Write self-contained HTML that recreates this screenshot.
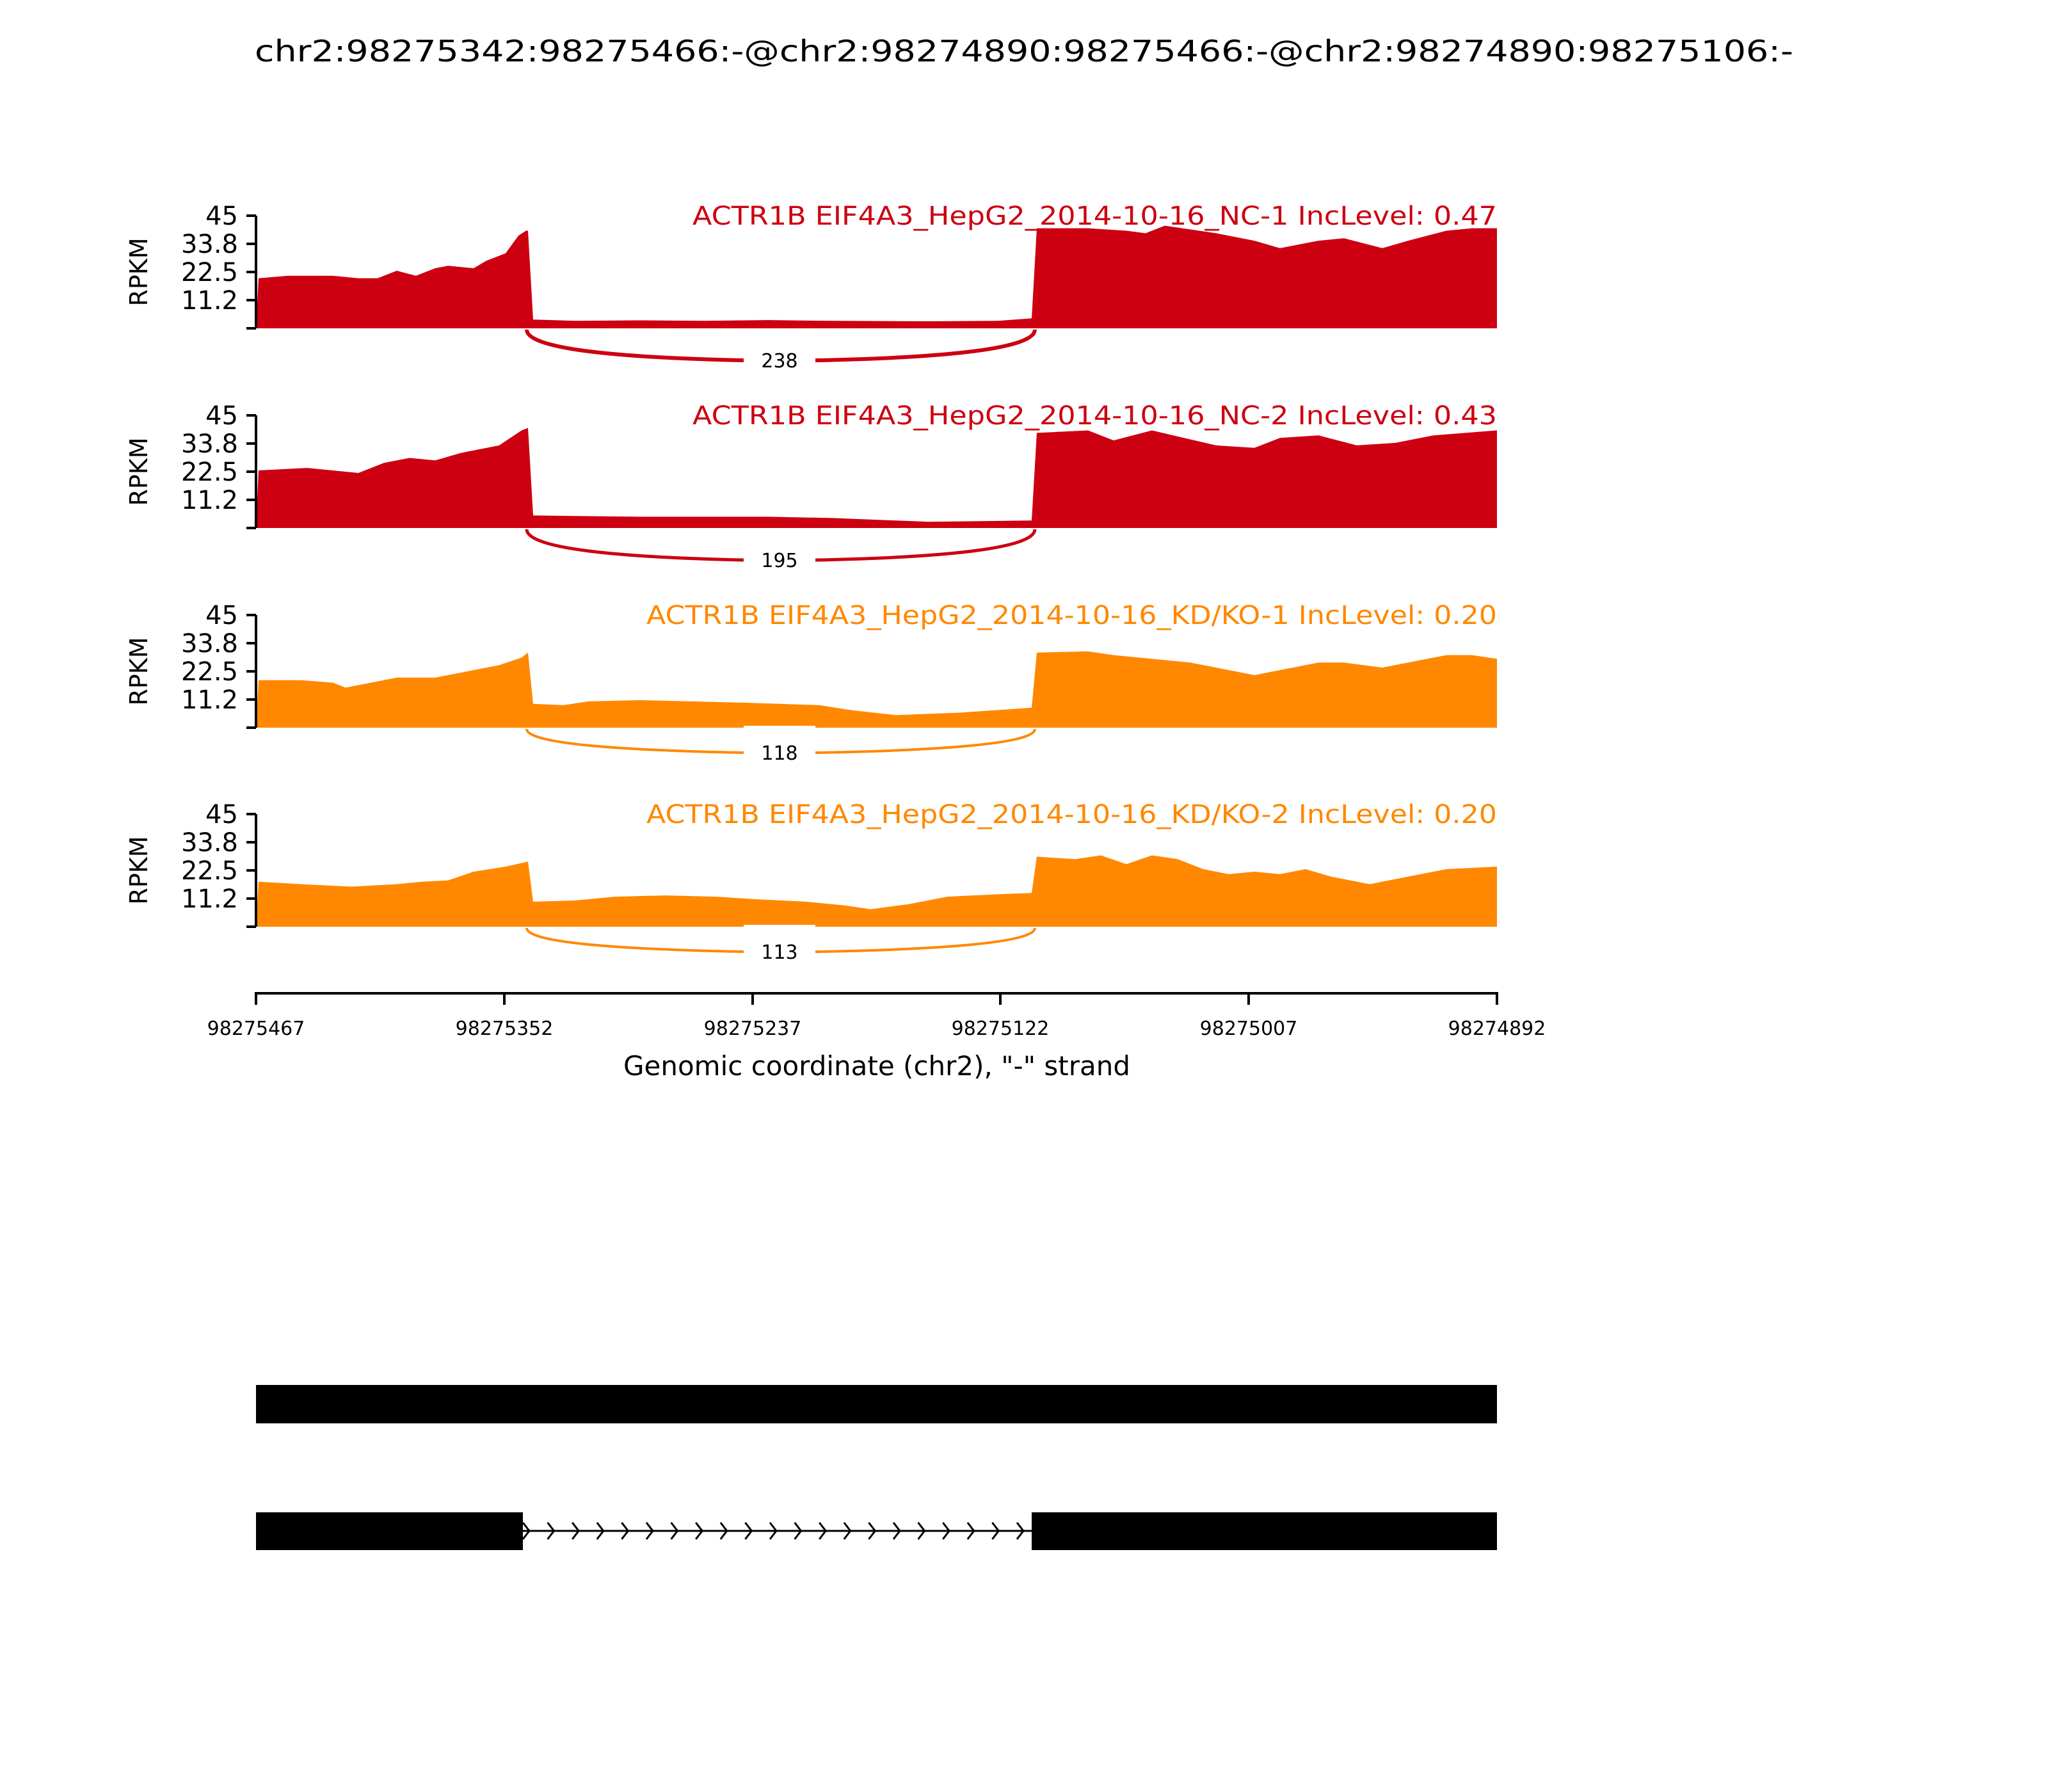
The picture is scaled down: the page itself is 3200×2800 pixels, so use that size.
<!DOCTYPE html>
<html><head><meta charset="utf-8"><style>
body{margin:0;background:#fff;}
svg{display:block;font-family:"DejaVu Sans","Liberation Sans",sans-serif;}
</style></head><body>
<svg width="3200" height="2800" viewBox="0 0 3200 2800" xmlns="http://www.w3.org/2000/svg">
<rect width="3200" height="2800" fill="#fff"/>
<text x="398" y="96" font-size="46" textLength="2404" lengthAdjust="spacingAndGlyphs">chr2:98275342:98275466:-@chr2:98274890:98275466:-@chr2:98274890:98275106:-</text>

<!-- Panel 1 -->
<polygon fill="#cc0011" points="400,513 404,434.8 450,430.9 520,430.9 560,434.8 590,434.8 620,423 650,430.9 680,419.1 700,415.2 740,419.1 760,407.4 790,395.7 810,368.3 822,360.5 825,360.5 833,499.3 900,501.3 1000,500.5 1100,501.3 1200,500.1 1300,501.3 1450,502 1560,501.3 1612,497.4 1620,356.6 1700,356.6 1760,360.5 1790,364.4 1820,352.6 1900,364.4 1960,376.1 2000,387.8 2060,376.1 2100,372.2 2160,387.8 2200,376.1 2260,360.5 2300,356.6 2339,356.6 2339,513"/>
<path d="M823 515 Q823 559 1220 564 Q1617 559 1617 515" stroke="#cc0011" stroke-width="6" fill="none"/>
<rect x="1162" y="545" width="112" height="38" fill="#fff"/>
<text x="1218" y="574" font-size="30" text-anchor="middle">238</text>
<g stroke="#000" stroke-width="4"><line x1="400" y1="337" x2="400" y2="513"/><line x1="385" y1="337" x2="400" y2="337"/><line x1="385" y1="381" x2="400" y2="381"/><line x1="385" y1="425" x2="400" y2="425"/><line x1="385" y1="469" x2="400" y2="469"/><line x1="385" y1="513" x2="400" y2="513"/></g>
<g font-size="40" text-anchor="end"><text x="372" y="351">45</text><text x="372" y="395">33.8</text><text x="372" y="439">22.5</text><text x="372" y="483">11.2</text></g>
<text transform="translate(230,425) rotate(-90)" font-size="38" text-anchor="middle">RPKM</text>
<text x="1082" y="351" font-size="40" fill="#cc0011" textLength="1257" lengthAdjust="spacingAndGlyphs">ACTR1B EIF4A3_HepG2_2014-10-16_NC-1 IncLevel: 0.47</text>

<!-- Panel 2 -->
<polygon fill="#cc0011" points="400,825 404,735 480,731.1 560,739 600,723.3 640,715.5 680,719.4 720,707.7 780,695.9 815,672.5 825,668.6 833,805.4 1000,807.4 1200,807.4 1300,809.4 1450,815.2 1612,813.3 1620,676.4 1700,672.5 1740,688.1 1800,672.5 1850,684.2 1900,695.9 1960,699.8 2000,684.2 2060,680.3 2120,695.9 2180,692 2240,680.3 2339,672.5 2339,825"/>
<path d="M823 827 Q823 871 1220 876 Q1617 871 1617 827" stroke="#cc0011" stroke-width="5" fill="none"/>
<rect x="1162" y="857" width="112" height="38" fill="#fff"/>
<text x="1218" y="886" font-size="30" text-anchor="middle">195</text>
<g stroke="#000" stroke-width="4"><line x1="400" y1="649" x2="400" y2="825"/><line x1="385" y1="649" x2="400" y2="649"/><line x1="385" y1="693" x2="400" y2="693"/><line x1="385" y1="737" x2="400" y2="737"/><line x1="385" y1="781" x2="400" y2="781"/><line x1="385" y1="825" x2="400" y2="825"/></g>
<g font-size="40" text-anchor="end"><text x="372" y="663">45</text><text x="372" y="707">33.8</text><text x="372" y="751">22.5</text><text x="372" y="795">11.2</text></g>
<text transform="translate(230,737) rotate(-90)" font-size="38" text-anchor="middle">RPKM</text>
<text x="1082" y="663" font-size="40" fill="#cc0011" textLength="1257" lengthAdjust="spacingAndGlyphs">ACTR1B EIF4A3_HepG2_2014-10-16_NC-2 IncLevel: 0.43</text>

<!-- Panel 3 -->
<polygon fill="#ff8800" points="400,1137 404,1062.7 470,1062.7 520,1066.6 540,1074.4 580,1066.6 620,1058.8 680,1058.8 720,1051 780,1039.2 815,1027.5 825,1019.7 833,1099.8 880,1101.8 920,1095.9 1000,1094 1080,1095.9 1160,1097.9 1280,1101.8 1330,1109.6 1400,1117.4 1500,1113.5 1612,1105.7 1620,1019.7 1700,1017.7 1740,1023.6 1800,1029.4 1860,1035.3 1920,1047 1960,1054.9 2000,1047 2060,1035.3 2100,1035.3 2160,1043.1 2200,1035.3 2260,1023.6 2300,1023.6 2339,1029.4 2339,1137"/>
<path d="M823 1139 Q823 1172 1220 1177 Q1617 1172 1617 1139" stroke="#ff8800" stroke-width="4" fill="none"/>
<rect x="1162" y="1134" width="112" height="58" fill="#fff"/>
<text x="1218" y="1187" font-size="30" text-anchor="middle">118</text>
<g stroke="#000" stroke-width="4"><line x1="400" y1="961" x2="400" y2="1137"/><line x1="385" y1="961" x2="400" y2="961"/><line x1="385" y1="1005" x2="400" y2="1005"/><line x1="385" y1="1049" x2="400" y2="1049"/><line x1="385" y1="1093" x2="400" y2="1093"/><line x1="385" y1="1137" x2="400" y2="1137"/></g>
<g font-size="40" text-anchor="end"><text x="372" y="975">45</text><text x="372" y="1019">33.8</text><text x="372" y="1063">22.5</text><text x="372" y="1107">11.2</text></g>
<text transform="translate(230,1049) rotate(-90)" font-size="38" text-anchor="middle">RPKM</text>
<text x="1010" y="975" font-size="40" fill="#ff8800" textLength="1329" lengthAdjust="spacingAndGlyphs">ACTR1B EIF4A3_HepG2_2014-10-16_KD/KO-1 IncLevel: 0.20</text>

<!-- Panel 4 -->
<polygon fill="#ff8800" points="400,1448 404,1377.6 470,1381.5 550,1385.4 620,1381.5 660,1377.6 700,1375.6 740,1362 790,1354.1 825,1346.3 833,1408.9 900,1406.9 960,1401.1 1040,1399.1 1120,1401.1 1180,1405 1260,1408.9 1320,1414.8 1360,1420.6 1420,1412.8 1480,1401.1 1560,1397.2 1612,1395.2 1620,1338.5 1680,1342.4 1720,1336.5 1760,1350.2 1800,1336.5 1840,1342.4 1880,1358 1920,1365.9 1960,1362 2000,1365.9 2040,1358 2080,1369.8 2140,1381.5 2200,1369.8 2260,1358 2339,1354.1 2339,1448"/>
<path d="M823 1450 Q823 1483 1220 1488 Q1617 1483 1617 1450" stroke="#ff8800" stroke-width="4" fill="none"/>
<rect x="1162" y="1445" width="112" height="58" fill="#fff"/>
<text x="1218" y="1498" font-size="30" text-anchor="middle">113</text>
<g stroke="#000" stroke-width="4"><line x1="400" y1="1272" x2="400" y2="1448"/><line x1="385" y1="1272" x2="400" y2="1272"/><line x1="385" y1="1316" x2="400" y2="1316"/><line x1="385" y1="1360" x2="400" y2="1360"/><line x1="385" y1="1404" x2="400" y2="1404"/><line x1="385" y1="1448" x2="400" y2="1448"/></g>
<g font-size="40" text-anchor="end"><text x="372" y="1286">45</text><text x="372" y="1330">33.8</text><text x="372" y="1374">22.5</text><text x="372" y="1418">11.2</text></g>
<text transform="translate(230,1360) rotate(-90)" font-size="38" text-anchor="middle">RPKM</text>
<text x="1010" y="1286" font-size="40" fill="#ff8800" textLength="1329" lengthAdjust="spacingAndGlyphs">ACTR1B EIF4A3_HepG2_2014-10-16_KD/KO-2 IncLevel: 0.20</text>

<!-- x axis -->
<g stroke="#000" stroke-width="4" fill="none">
<line x1="398" y1="1552" x2="2341" y2="1552"/>
<line x1="400" y1="1552" x2="400" y2="1570"/>
<line x1="788" y1="1552" x2="788" y2="1570"/>
<line x1="1176" y1="1552" x2="1176" y2="1570"/>
<line x1="1563" y1="1552" x2="1563" y2="1570"/>
<line x1="1951" y1="1552" x2="1951" y2="1570"/>
<line x1="2339" y1="1552" x2="2339" y2="1570"/>
</g>
<g font-size="30" text-anchor="middle">
<text x="400" y="1617">98275467</text>
<text x="788" y="1617">98275352</text>
<text x="1176" y="1617">98275237</text>
<text x="1563" y="1617">98275122</text>
<text x="1951" y="1617">98275007</text>
<text x="2339" y="1617">98274892</text>
</g>
<text x="1370" y="1680" font-size="42" text-anchor="middle">Genomic coordinate (chr2), "-" strand</text>

<!-- gene tracks -->
<rect x="400" y="2164" width="1939" height="60" fill="#000"/>
<rect x="400" y="2363" width="417" height="59" fill="#000"/>
<rect x="1612" y="2363" width="727" height="59" fill="#000"/>
<line x1="817" y1="2392" x2="1612" y2="2392" stroke="#000" stroke-width="3"/>
<path stroke="#000" stroke-width="3" fill="none" d="M817 2379 L827 2392 L817 2405 M855.6 2379 L865.6 2392 L855.6 2405 M894.2 2379 L904.2 2392 L894.2 2405 M932.8 2379 L942.8 2392 L932.8 2405 M971.4 2379 L981.4 2392 L971.4 2405 M1010 2379 L1020 2392 L1010 2405 M1048.6 2379 L1058.6 2392 L1048.6 2405 M1087.2 2379 L1097.2 2392 L1087.2 2405 M1125.8 2379 L1135.8 2392 L1125.8 2405 M1164.4 2379 L1174.4 2392 L1164.4 2405 M1203 2379 L1213 2392 L1203 2405 M1241.6 2379 L1251.6 2392 L1241.6 2405 M1280.2 2379 L1290.2 2392 L1280.2 2405 M1318.8 2379 L1328.8 2392 L1318.8 2405 M1357.4 2379 L1367.4 2392 L1357.4 2405 M1396 2379 L1406 2392 L1396 2405 M1434.6 2379 L1444.6 2392 L1434.6 2405 M1473.2 2379 L1483.2 2392 L1473.2 2405 M1511.8 2379 L1521.8 2392 L1511.8 2405 M1550.4 2379 L1560.4 2392 L1550.4 2405 M1589 2379 L1599 2392 L1589 2405"/>
</svg>
</body></html>
